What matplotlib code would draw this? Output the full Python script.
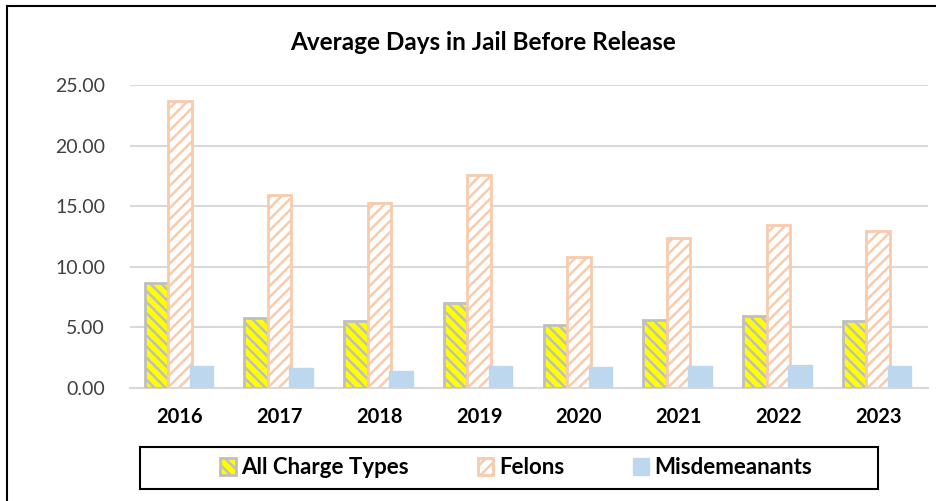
import matplotlib.pyplot as plt
import numpy as np
from matplotlib.patches import Rectangle

plt.rcParams['font.family'] = ['Lato', 'DejaVu Sans']
plt.rcParams['hatch.linewidth'] = 1.8

years = ['2016', '2017', '2018', '2019', '2020', '2021', '2022', '2023']
all_charges = [8.65, 5.8, 5.5, 7.0, 5.2, 5.65, 5.9, 5.55]
felons = [23.7, 15.9, 15.3, 17.6, 10.8, 12.4, 13.45, 12.95]
misdemeanants = [1.8, 1.65, 1.4, 1.8, 1.7, 1.85, 1.9, 1.8]

fig = plt.figure(figsize=(9.36, 5.01), dpi=100)
ax = fig.add_axes([130/936, 1-388/501, 798/936, 303/501])

x = np.arange(len(years))
w = 0.235
ax.bar(x - w, all_charges, w, color='#FFFF00', edgecolor='#BFBFBF', hatch='\\\\\\', linewidth=2,
       label='All Charge Types', zorder=3)
ax.bar(x, felons, w, color='white', edgecolor='#F8CBAD', hatch='///', linewidth=2,
       label='Felons', zorder=3)
ax.bar(x + w - 0.02, misdemeanants, w, color='#BDD7EE', edgecolor='#BDD7EE', linewidth=1,
       label='Misdemeanants', zorder=4)

ax.set_xlim(-0.5, len(years) - 0.5)
ax.set_ylim(0, 25)
ax.set_yticks(np.arange(0, 25.01, 5))
ax.set_yticklabels(['%.2f' % v for v in np.arange(0, 25.01, 5)], fontsize=14, color='#404040')
ax.set_xticks(x)
ax.set_xticklabels(years, fontsize=14.5, fontweight='bold')
ax.tick_params(length=0)
ax.tick_params(axis='y', pad=18)
ax.tick_params(axis='x', pad=14)
ax.grid(axis='y', color='#D9D9D9', linewidth=1.5, zorder=0)
for s in ['top', 'right', 'left']:
    ax.spines[s].set_visible(False)
ax.spines['bottom'].set_color('#D9D9D9')
ax.spines['bottom'].set_linewidth(1.5)

fig.text(483/936, 1-43/501, 'Average Days in Jail Before Release', ha='center', va='center',
         fontsize=17.5, fontweight='bold')

leg = fig.legend(loc='center', bbox_to_anchor=(516/936, 1-468/501), ncol=3, frameon=False,
                 prop={'size': 16, 'weight': 'bold'}, handlelength=0.7, handleheight=0.8,
                 handletextpad=0.25, columnspacing=3.1)
fig.patches.append(Rectangle((140/936, 1-489/501), 738/936, 42/501, transform=fig.transFigure,
                             fill=False, edgecolor='black', linewidth=1.5))
fig.patches.append(Rectangle((7/936, -0.05), 940/936, 1.05-6/501, transform=fig.transFigure,
                             fill=False, edgecolor='black', linewidth=1.5))

fig.savefig('out.png', dpi=100)
